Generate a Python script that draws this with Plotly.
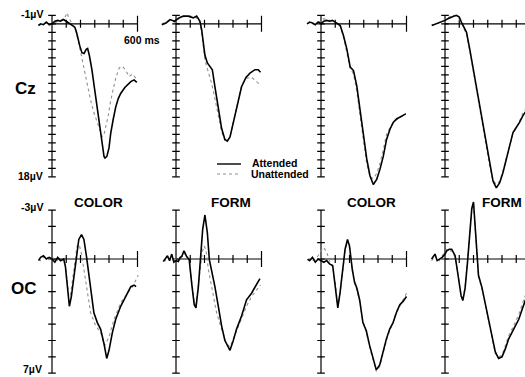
import plotly.graph_objects as go

# ---------------- data (time in ms, amplitude in microvolts, negative up) ----------------
TIME_TICKS = [100, 200, 300, 400, 500, 600]
TOP_UV_TICKS = list(range(-1, 19))
BOTTOM_UV_TICKS = list(range(-3, 8))

# Cz, COLOR (col 1)
CZ1_ATT_T = [-95, -80, -60, -40, -20, 0, 20, 40, 60, 80, 100, 120, 140, 160, 172, 182, 195, 210, 225, 240,
             250, 262, 280, 300, 320, 340, 355, 365, 372, 385, 400, 412, 430, 447, 465, 482, 511, 529, 553, 576, 595]
CZ1_ATT_V = [0.2, 0.0, 0.1, -0.2, 0.1, 0.0, -0.3, -0.4, -0.3, -0.5, -0.3, -0.1, 0.1, 0.4, 1.0, 1.8, 2.6, 3.4, 3.5, 3.0,
             2.9, 3.7, 5.4, 7.8, 10.2, 12.6, 14.4, 15.6, 15.8, 15.6, 14.6, 12.9, 11.2, 9.8, 8.8, 8.2, 7.5, 7.2, 6.8, 6.6, 6.9]
CZ1_UN_T = [-95, -80, -60, -40, -20, 0, 20, 40, 60, 80, 95, 106, 118, 135, 150, 165, 188, 205, 224, 245,
            271, 295, 318, 340, 353, 365, 376, 395, 412, 430, 447, 471, 494, 518, 541, 565, 588]
CZ1_UN_V = [0.1, 0.1, 0.0, -0.1, 0.2, 0.0, -0.2, -0.3, -0.4, -0.6, -0.9, -1.3, -0.7, -0.2, 0.1, 0.7, 2.3, 3.7, 5.0, 7.0,
            9.0, 10.5, 11.7, 12.8, 13.3, 13.0, 12.3, 10.8, 9.0, 7.6, 6.4, 5.2, 5.0, 5.5, 6.2, 5.9, 6.4]

# Cz, FORM (col 2)
CZ2_ATT_T = [-100, -70, -42, -10, 20, 51, 86, 121, 145, 168, 180, 192, 203, 220, 238, 255, 273, 297, 320, 343,
             360, 379, 402, 430, 460, 491, 519, 554, 577, 593]
CZ2_ATT_V = [0.1, -0.1, -0.5, -0.3, -0.7, -0.9, -0.9, -0.7, -0.9, -0.3, 0.7, 2.3, 3.7, 4.6, 5.0, 5.4, 7.4, 10.0, 12.3, 13.6,
             13.8, 13.3, 11.7, 9.4, 7.4, 6.3, 5.8, 5.4, 5.4, 5.7]
CZ2_UN_T = [-100, -70, -42, -10, 20, 51, 86, 121, 145, 168, 180, 203, 227, 250, 273, 297, 320, 343, 355, 379,
            402, 430, 460, 495, 530, 565, 593]
CZ2_UN_V = [0.0, -0.2, -0.4, -0.2, -0.6, -0.8, -1.0, -0.8, -0.7, -0.1, 1.0, 4.3, 5.6, 7.0, 8.8, 10.7, 12.7, 13.7, 13.9, 13.3,
            11.6, 9.2, 7.3, 6.4, 6.3, 6.8, 7.2]

# Cz, COLOR (col 3)
CZ3_T = [-98, -80, -60, -40, -20, 0, 20, 40, 60, 80, 100, 120, 135, 158, 181, 205, 228, 251, 274, 298,
         321, 344, 367, 391, 414, 437, 460, 484, 507, 530, 553, 577, 595]
CZ3_ATT_V = [0.0, -0.2, -0.1, 0.1, -0.2, 0.0, -0.3, -0.4, -0.3, -0.4, -0.2, 0.0, 0.2, 1.4, 2.95, 5.1, 5.5, 7.3, 10.0, 13.2,
             15.9, 17.9, 18.9, 18.3, 17.1, 15.6, 13.6, 12.4, 11.6, 11.2, 11.0, 10.8, 10.6]
CZ3_UN_V = [0.0, -0.1, 0.0, 0.1, -0.1, -0.3, -0.6, -0.5, -0.4, -0.3, -0.2, 0.0, 0.3, 1.6, 3.2, 5.2, 5.9, 7.9, 10.8, 14.0,
            16.5, 18.0, 18.2, 17.6, 16.4, 14.8, 13.0, 12.2, 11.6, 11.3, 11.1, 10.8, 10.5]

# Cz, FORM (col 4)
CZ4_T = [-93, -75, -55, -35, -15, 0, 20, 40, 60, 80, 100, 115, 128, 151, 174, 198, 221, 244, 267, 291,
         314, 337, 360, 384, 407, 430, 453, 477, 500, 523, 547, 575, 600]
CZ4_ATT_V = [0.2, 0.1, -0.1, -0.2, -0.3, -0.4, -0.6, -0.8, -0.9, -1.0, -0.8, -0.2, 0.3, 1.0, 3.0, 5.3, 7.5, 9.6, 12.0, 14.4,
             16.7, 18.5, 19.3, 18.7, 17.5, 15.9, 14.4, 12.8, 12.2, 11.6, 10.8, 10.0, 9.5]
CZ4_UN_V = [0.1, 0.1, 0.0, -0.2, -0.4, -0.5, -0.7, -0.9, -1.0, -0.9, -0.6, -0.1, 0.4, 1.2, 3.2, 5.5, 7.7, 9.8, 12.2, 14.6,
            16.8, 18.4, 18.9, 18.5, 17.3, 15.8, 14.2, 12.9, 12.3, 11.4, 10.5, 9.8, 9.3]

# OC, COLOR (col 1)
OC1_ATT_T = [-94, -80, -60, -40, -20, 0, 20, 40, 60, 82, 94, 106, 115, 122, 136, 153, 172, 188, 207, 224,
             242, 259, 275, 294, 318, 341, 365, 384, 400, 424, 447, 482, 518, 553, 576, 590]
OC1_ATT_V = [0.1, -0.1, -0.2, 0.0, -0.1, 0.0, 0.2, -0.1, 0.1, 0.0, 0.45, 1.5, 2.4, 2.9, 2.3, 1.07, -0.16, -1.2, -1.5, -1.2,
             -0.16, 1.07, 2.3, 3.3, 3.9, 4.3, 5.2, 6.1, 5.6, 4.5, 3.7, 2.9, 2.3, 1.7, 1.6, 1.7]
OC1_UN_T = [-94, -80, -60, -40, -20, 0, 20, 40, 60, 82, 94, 106, 118, 130, 145, 160, 176, 190, 205, 224,
            247, 271, 306, 341, 369, 400, 435, 482, 529, 565, 605]
OC1_UN_V = [0.0, 0.1, -0.1, -0.2, 0.1, 0.0, -0.1, 0.1, 0.0, 0.1, 0.4, 1.3, 2.3, 2.2, 1.2, 0.0, -0.8, -0.9, -0.4, 0.65,
            2.1, 3.3, 4.1, 4.5, 5.3, 4.8, 3.7, 2.7, 2.1, 1.7, 1.0]

# OC, FORM (col 2)
OC2_ATT_T = [-89, -75, -60, -45, -30, -15, 0, 16, 30, 40, 56, 75, 93, 110, 128, 140, 157, 173, 187, 203,
             220, 234, 250, 273, 297, 320, 343, 367, 379, 402, 425, 460, 495, 530, 565, 589]
OC2_ATT_V = [0.15, 0.0, -0.2, 0.1, -0.3, 0.2, 0.1, 0.15, -0.1, -0.15, -0.5, -0.15, 0.05, 1.5, 2.8, 3.0, 1.7, -0.16, -1.8, -2.7,
             -1.6, 0.04, 0.65, 1.7, 2.9, 4.1, 5.0, 5.4, 5.6, 5.0, 4.3, 3.5, 2.5, 2.1, 1.6, 1.2]
OC2_UN_T = [-89, -75, -60, -45, -30, -15, 0, 16, 30, 40, 56, 75, 93, 110, 128, 140, 157, 170, 184, 196,
            210, 227, 250, 285, 320, 355, 379, 402, 450, 495, 530, 565, 593]
OC2_UN_V = [0.1, 0.1, -0.1, 0.0, -0.2, 0.1, 0.0, 0.1, -0.2, -0.1, -0.4, -0.1, 0.1, 1.4, 2.6, 2.8, 1.6, 0.6, -0.4, -0.8,
            -0.6, 0.65, 1.8, 3.3, 4.3, 5.2, 5.4, 4.9, 3.8, 2.9, 2.3, 1.9, 1.6]

# OC, COLOR (col 3)
OC3_T = [-94, -80, -60, -40, -20, 0, 20, 40, 60, 82, 101, 118, 134, 153, 169, 186, 200, 219, 235, 252,
         271, 294, 318, 341, 365, 388, 412, 435, 459, 482, 506, 529, 553, 576, 600]
OC3_ATT_V = [0.0, 0.1, -0.1, 0.2, 0.0, 0.1, 0.2, 0.1, 0.3, 0.4, 1.6, 3.0, 2.05, 0.4, -0.6, -1.2, -0.8, 0.6, 1.4, 1.8,
             2.5, 3.9, 4.4, 5.3, 6.1, 6.8, 6.5, 5.7, 4.9, 4.3, 3.9, 3.3, 2.8, 2.6, 2.3]
OC3_UN_V = [0.1, 0.0, 0.1, 0.0, -0.2, -0.5, -0.7, -0.4, 0.1, 0.5, 1.5, 2.9, 2.1, 0.5, -0.5, -1.1, -0.7, 0.7, 1.5, 1.9,
            2.6, 3.8, 4.5, 5.4, 6.2, 6.9, 6.6, 5.8, 5.0, 4.4, 3.9, 3.2, 2.9, 2.5, 2.1]

# OC, FORM (col 4)
OC4_T = [-94, -80, -70, -55, -40, -20, 0, 12, 30, 47, 71, 94, 113, 125, 141, 158, 172, 188, 200, 216,
         235, 259, 282, 306, 329, 353, 376, 400, 424, 447, 482, 518, 541, 565, 600]
OC4_ATT_V = [0.0, -0.2, -0.3, 0.1, 0.0, -0.1, -0.3, -0.5, -0.6, -0.6, -0.2, 1.0, 2.25, 2.55, 1.8, 0.2, -1.6, -3.1, -3.5, -1.2,
             1.0, 1.74, 2.7, 3.7, 4.7, 5.7, 6.1, 6.0, 5.5, 4.9, 4.3, 3.7, 3.1, 2.5, 1.9]
OC4_UN_V = [0.1, -0.1, -0.2, 0.0, 0.1, -0.2, -0.4, -0.6, -0.5, -0.5, -0.1, 1.1, 2.3, 2.5, 1.7, 0.1, -1.5, -3.0, -3.4, -1.1,
            1.1, 1.8, 2.8, 3.8, 4.8, 5.8, 6.0, 5.9, 5.3, 4.7, 4.1, 3.4, 2.8, 2.2, 1.6]

# ---------------- layout geometry (pixels) ----------------
W, H = 525, 377
PX_PER_MS = 0.1425
COL_X0 = [52, 176, 321, 445]           # pixel of t = 0 in each column
ROW = {
    "top": dict(zero=23.8, px_uv=8.5, dom=(5, 194), ticks=TOP_UV_TICKS),
    "bottom": dict(zero=259.0, px_uv=16.3, dom=(196, 377), ticks=BOTTOM_UV_TICKS),
}
T_LEFT, T_RIGHT = -115, 615

PANELS = [
    ("top", 0, CZ1_ATT_T, CZ1_ATT_V, CZ1_UN_T, CZ1_UN_V),
    ("top", 1, CZ2_ATT_T, CZ2_ATT_V, CZ2_UN_T, CZ2_UN_V),
    ("top", 2, CZ3_T, CZ3_ATT_V, CZ3_T, CZ3_UN_V),
    ("top", 3, CZ4_T, CZ4_ATT_V, CZ4_T, CZ4_UN_V),
    ("bottom", 0, OC1_ATT_T, OC1_ATT_V, OC1_UN_T, OC1_UN_V),
    ("bottom", 1, OC2_ATT_T, OC2_ATT_V, OC2_UN_T, OC2_UN_V),
    ("bottom", 2, OC3_T, OC3_ATT_V, OC3_T, OC3_UN_V),
    ("bottom", 3, OC4_T, OC4_ATT_V, OC4_T, OC4_UN_V),
]

FONT = "Liberation Sans, Arial, Helvetica, sans-serif"
fig = go.Figure()
layout = {}

for i, (row, col, at, av, ut, uv) in enumerate(PANELS):
    r = ROW[row]
    n = "" if i == 0 else str(i + 1)
    x0 = COL_X0[col]
    left_px = x0 + T_LEFT * PX_PER_MS
    right_px = min(x0 + T_RIGHT * PX_PER_MS, W)
    t_lo = (left_px - x0) / PX_PER_MS
    t_hi = (right_px - x0) / PX_PER_MS
    top_px, bot_px = r["dom"]
    v_top = (top_px - r["zero"]) / r["px_uv"]
    v_bot = (bot_px - r["zero"]) / r["px_uv"]
    layout["xaxis" + n] = dict(domain=[left_px / W, right_px / W], range=[t_lo, t_hi],
                               visible=False, fixedrange=True, anchor="y" + n)
    layout["yaxis" + n] = dict(domain=[1 - bot_px / H, 1 - top_px / H], range=[v_bot, v_top],
                               visible=False, fixedrange=True, anchor="x" + n)

    # axis cross with tick marks
    hw = 3.8 / PX_PER_MS          # half width of y-tick in ms
    hv = 4.0 / r["px_uv"]         # half height of x-tick in uV
    ticks = r["ticks"]
    xs, ys = [0, 0, None], [ticks[0], ticks[-1], None]
    for v in ticks:
        xs += [-hw, hw, None]
        ys += [v, v, None]
    xs += [0, TIME_TICKS[-1], None]
    ys += [0, 0, None]
    for t in TIME_TICKS:
        k = 2.0 if t == TIME_TICKS[-1] else 1.0
        xs += [t, t, None]
        ys += [-hv * k, hv * k, None]
    fig.add_trace(go.Scatter(x=xs, y=ys, mode="lines", xaxis="x" + n, yaxis="y" + n,
                             line=dict(color="black", width=1.2), hoverinfo="skip", showlegend=False))
    # waveforms
    fig.add_trace(go.Scatter(x=ut, y=uv, mode="lines", xaxis="x" + n, yaxis="y" + n,
                             line=dict(color="#8f8f8f", width=1.1, dash="dot"),
                             name="Unattended", showlegend=False))
    fig.add_trace(go.Scatter(x=at, y=av, mode="lines", xaxis="x" + n, yaxis="y" + n,
                             line=dict(color="black", width=1.6),
                             name="Attended", showlegend=False))

annotations = []


def txt(text, px, py, size, bold=True, xanchor="center"):
    annotations.append(dict(
        text=("<b>%s</b>" % text) if bold else text, x=px / W, y=1 - py / H,
        xref="paper", yref="paper", xanchor=xanchor, yanchor="middle", showarrow=False,
        font=dict(family=FONT, size=size, color="black")))


# amplitude scale labels
txt("-1\u00b5V", 45, 14, 10.5, xanchor="right")
txt("18\u00b5V", 45, 176, 10.5, xanchor="right")
txt("-3\u00b5V", 45, 207, 10.5, xanchor="right")
txt("7\u00b5V", 44, 369, 10.5, xanchor="right")
# electrode labels
txt("Cz", 25, 88, 17)
txt("OC", 24, 288, 17)
# condition titles
txt("COLOR", 98, 202, 13.5)
txt("FORM", 231, 202, 13.5)
txt("COLOR", 371, 202, 13.5)
txt("FORM", 502, 202, 13.5)
# time label
txt("600 ms", 142, 40, 10.5)
# legend
txt("Attended", 250, 163, 10.5, xanchor="left")
txt("Unattended", 249, 174, 10.5, xanchor="left")

shapes = [
    dict(type="line", xref="paper", yref="paper", x0=217 / W, x1=241 / W, y0=1 - 164 / H, y1=1 - 164 / H,
         line=dict(color="black", width=1.4)),
    dict(type="line", xref="paper", yref="paper", x0=217 / W, x1=241 / W, y0=1 - 174 / H, y1=1 - 174 / H,
         line=dict(color="#8f8f8f", width=1.1, dash="dot")),
]

fig.update_layout(
    width=W, height=H, margin=dict(l=0, r=0, t=0, b=0),
    paper_bgcolor="white", plot_bgcolor="rgba(0,0,0,0)",
    showlegend=False, annotations=annotations, shapes=shapes,
    **layout,
)

fig.write_html("out.html")
